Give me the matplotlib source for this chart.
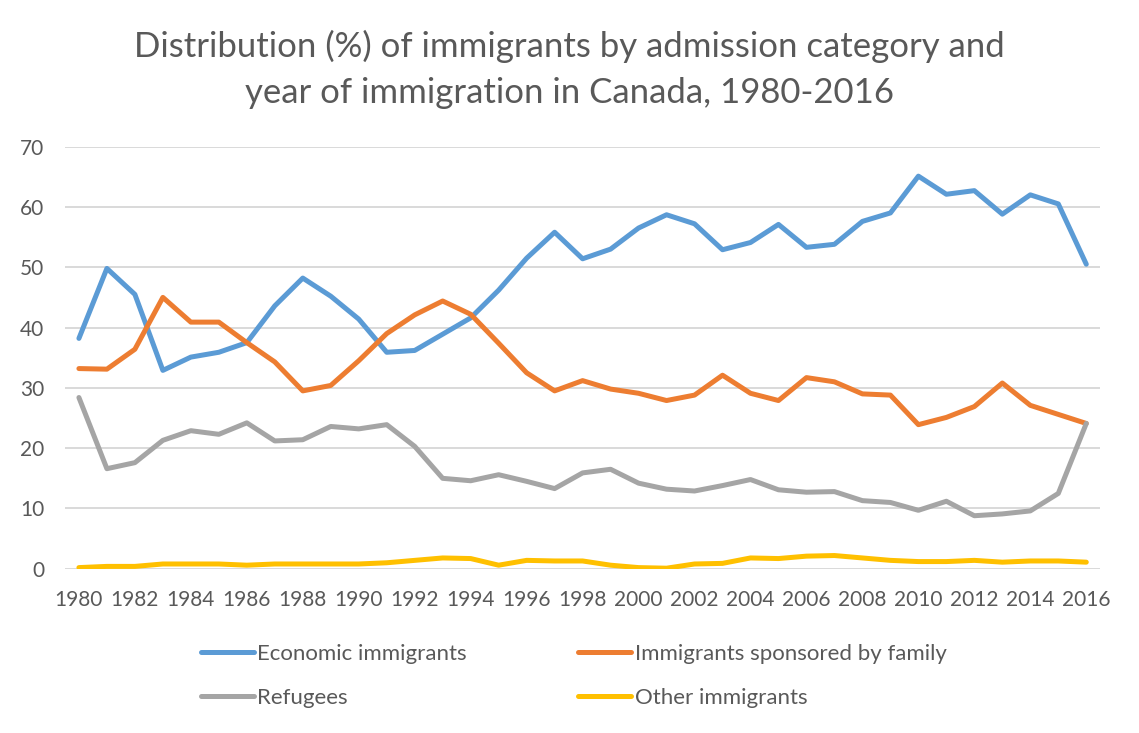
import numpy as np
import matplotlib.pyplot as plt

years = np.arange(1980, 2017)

economic = [38.2, 49.8, 45.5, 32.9, 35.1, 35.9, 37.5, 43.6, 48.2, 45.2,
            41.4, 35.9, 36.2, 38.9, 41.6, 46.2, 51.5, 55.8, 51.4, 53.0,
            56.5, 58.7, 57.2, 52.9, 54.1, 57.1, 53.3, 53.8, 57.6, 59.0,
            65.1, 62.1, 62.7, 58.8, 62.0, 60.5, 50.5]
family = [33.2, 33.1, 36.4, 45.0, 40.9, 40.9, 37.5, 34.3, 29.5, 30.4,
          34.5, 39.0, 42.1, 44.4, 42.2, 37.4, 32.5, 29.5, 31.2, 29.8,
          29.1, 27.9, 28.8, 32.1, 29.1, 27.9, 31.7, 31.0, 29.0, 28.8,
          23.9, 25.1, 26.9, 30.8, 27.1, 25.6, 24.1]
refugees = [28.4, 16.6, 17.6, 21.3, 22.9, 22.3, 24.2, 21.2, 21.4, 23.6,
            23.2, 23.9, 20.3, 15.0, 14.6, 15.6, 14.5, 13.3, 15.9, 16.5,
            14.2, 13.2, 12.9, 13.8, 14.8, 13.1, 12.7, 12.8, 11.3, 11.0,
            9.7, 11.2, 8.8, 9.1, 9.6, 12.5, 24.1]
other = [0.2, 0.4, 0.4, 0.8, 0.8, 0.8, 0.6, 0.8, 0.8, 0.8,
         0.8, 1.0, 1.4, 1.8, 1.7, 0.6, 1.4, 1.3, 1.3, 0.6,
         0.2, 0.1, 0.8, 0.9, 1.8, 1.7, 2.1, 2.2, 1.8, 1.4,
         1.2, 1.2, 1.4, 1.1, 1.3, 1.3, 1.1]

plt.rcParams['font.family'] = ['Lato', 'DejaVu Sans']
text_color = '#595959'

fig = plt.figure(figsize=(11.39, 7.33), dpi=100)
# plot area: gridlines from x=65 to 1100 px, y=147 (70) to 569 (0)
ax = fig.add_axes([0.057, 0.224, 0.909, 0.576])

l1, = ax.plot(years, economic, color='#5B9BD5', lw=3.6, label='Economic immigrants')
l2, = ax.plot(years, family, color='#ED7D31', lw=3.6, label='Immigrants sponsored by family')
l3, = ax.plot(years, refugees, color='#A5A5A5', lw=3.6, label='Refugees')
l4, = ax.plot(years, other, color='#FFC000', lw=3.6, label='Other immigrants')
for l in (l1, l2, l3, l4):
    l.set_solid_capstyle('round')
    l.set_solid_joinstyle('round')

ax.set_xlim(1979.5, 2016.5)
ax.set_ylim(0, 70)
ax.set_yticks(range(0, 71, 10))
ax.set_xticks(range(1980, 2017, 2))
ax.grid(axis='y', color='#D9D9D9', lw=1.4)
ax.set_axisbelow(True)
for s in ax.spines.values():
    s.set_visible(False)
ax.tick_params(length=0, labelsize=15, colors=text_color)
ax.tick_params(axis='y', pad=15)
ax.tick_params(axis='x', pad=15)

fig.text(0.5, 0.905,
         'Distribution (%) of immigrants by admission category and\nyear of immigration in Canada, 1980-2016',
         ha='center', va='center', fontsize=25, color=text_color, linespacing=1.52)

fig.legend(handles=[l1, l3, l2, l4], ncol=2, frameon=False,
           loc='center', bbox_to_anchor=(0.5035, 0.078),
           fontsize=16, labelcolor=text_color, handlelength=2.4,
           handletextpad=0.15, columnspacing=5.0, labelspacing=1.1)

fig.savefig('out.png', dpi=100)
